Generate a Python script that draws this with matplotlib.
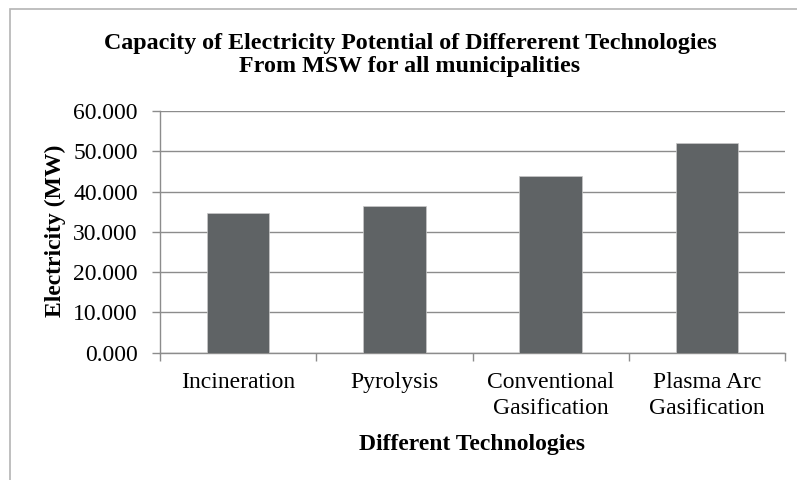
import numpy as np
import matplotlib
matplotlib.use("Agg")
import matplotlib.pyplot as plt
import matplotlib.patches as mpatches
import matplotlib.ticker as mtick

plt.rcParams['font.family'] = ['Liberation Serif', 'DejaVu Serif']

technologies = ["Incineration", "Pyrolysis", "Conventional\nGasification",
                "Plasma Arc\nGasification"]
electricity_mw = [34.8, 36.5, 43.8, 52.15]
y_ticks = [0, 10, 20, 30, 40, 50, 60]

W, H = 797, 480
fig = plt.figure(figsize=(W / 100, H / 100), dpi=100)
fig.patch.set_facecolor('white')

# outer chart border (only left/top visible in the reference)
fig.patches.append(mpatches.Rectangle((10 / W, -0.1), 1.2, 1.1 - 9 / H,
                                      transform=fig.transFigure, fill=False,
                                      edgecolor='#b4b4b4', linewidth=1.2))

ax = fig.add_axes([160 / W, 1 - 352.7 / H, (785 - 160) / W, (352.7 - 111) / H])

x = np.arange(len(technologies))
ax.bar(x, electricity_mw, width=0.4, color='#5f6365', edgecolor='#c8c8c8',
       linewidth=0.5, zorder=3)

ax.set_xlim(-0.5, len(technologies) - 0.5)
ax.set_ylim(0, 60)
ax.set_yticks(y_ticks)
ax.yaxis.set_major_formatter(mtick.FormatStrFormatter('%.3f'))
ax.grid(axis='y', color='#8c8c8c', linewidth=1.0, zorder=0)

ax.set_xticks(x)
ax.set_xticklabels(technologies, fontsize=17, linespacing=1.28)
ax.set_xticks(np.arange(-0.5, len(technologies)), minor=True)
ax.tick_params(axis='x', which='major', length=0, pad=14)
ax.tick_params(axis='x', which='minor', length=6, color='#8c8c8c', width=1)
ax.tick_params(axis='y', length=6, color='#8c8c8c', width=1, pad=10,
               labelsize=17)

for side in ['top', 'right']:
    ax.spines[side].set_visible(False)
for side in ['left', 'bottom']:
    ax.spines[side].set_color('#8c8c8c')
    ax.spines[side].set_linewidth(1.0)

fig.text(410 / W, 1 - 55 / H,
         "Capacity of Electricity Potential of Differerent Technologies\nFrom MSW for all municipalities",
         ha='center', va='center', fontsize=17.3, fontweight='bold', linespacing=1.12)
fig.text(472 / W, 1 - 450 / H, "Different Technologies", ha='center',
         va='baseline', fontsize=17, fontweight='bold')
fig.text(55 / W, 1 - 231 / H, "Electricity (MW)", ha='center', va='center',
         rotation=90, fontsize=17, fontweight='bold')

fig.savefig("out.png", dpi=100)
